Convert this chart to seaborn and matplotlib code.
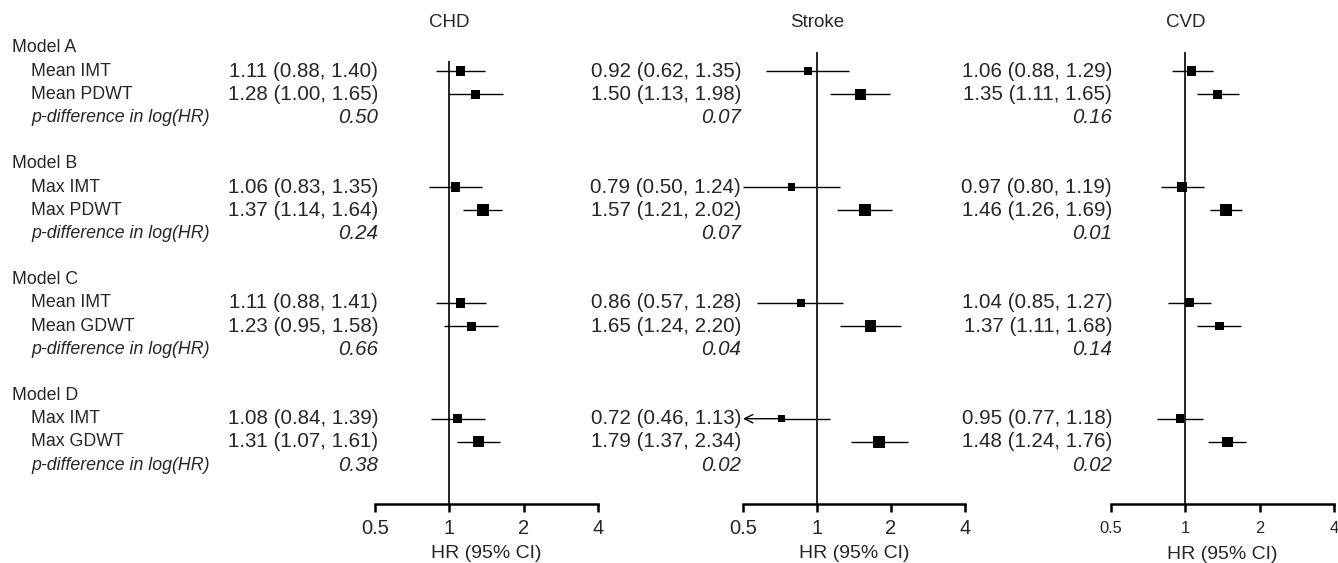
import numpy as np
import pandas as pd
import matplotlib
matplotlib.use("Agg")
import matplotlib.pyplot as plt
import seaborn as sns
from matplotlib.transforms import blended_transform_factory

# ---------------- data ----------------
models = ["Model A", "Model B", "Model C", "Model D"]
exposures = [["Mean IMT", "Mean PDWT"], ["Max IMT", "Max PDWT"],
             ["Mean IMT", "Mean GDWT"], ["Max IMT", "Max GDWT"]]
p_label = "p-difference in log(HR)"
outcomes = ["CHD", "Stroke", "CVD"]

chd_hr = [1.11, 1.28, 1.06, 1.37, 1.11, 1.23, 1.08, 1.31]
chd_lo = [0.88, 1.00, 0.83, 1.14, 0.88, 0.95, 0.84, 1.07]
chd_hi = [1.40, 1.65, 1.35, 1.64, 1.41, 1.58, 1.39, 1.61]
chd_p = ["0.50", "0.24", "0.66", "0.38"]

stroke_hr = [0.92, 1.50, 0.79, 1.57, 0.86, 1.65, 0.72, 1.79]
stroke_lo = [0.62, 1.13, 0.50, 1.21, 0.57, 1.24, 0.46, 1.37]
stroke_hi = [1.35, 1.98, 1.24, 2.02, 1.28, 2.20, 1.13, 2.34]
stroke_p = ["0.07", "0.07", "0.04", "0.02"]

cvd_hr = [1.06, 1.35, 0.97, 1.46, 1.04, 1.37, 0.95, 1.48]
cvd_lo = [0.88, 1.11, 0.80, 1.26, 0.85, 1.11, 0.77, 1.24]
cvd_hi = [1.29, 1.65, 1.19, 1.69, 1.27, 1.68, 1.18, 1.76]
cvd_p = ["0.16", "0.01", "0.14", "0.02"]

xticks = [0.5, 1, 2, 4]
xtick_labels = ["0.5", "1", "2", "4"]
xlabel = "HR (95% CI)"

panels = [
    (chd_hr, chd_lo, chd_hi, chd_p),
    (stroke_hr, stroke_lo, stroke_hi, stroke_p),
    (cvd_hr, cvd_lo, cvd_hi, cvd_p),
]

# ---------------- layout ----------------
sns.set_theme(style="white")
plt.rcParams["font.family"] = ["Liberation Sans", "DejaVu Sans"]

W, H = 1338, 563
fig = plt.figure(figsize=(W / 100, H / 100), dpi=100)

ROW0, ROWH = 48.0, 23.17


def row_of(px):
    return (px - ROW0) / ROWH


AX_TOP, AX_BOT = 52, 504
panel_px = [(375, 598), (743, 965), (1111, 1334)]
value_right_px = [378, 741, 1112]
vline_top_px = [61, 52, 52]
tick_fs = [14.5, 14.5, 11.9]
tick_pad = [5, 5, 6]
xlabel_pad = [5, 5, 7.5]

item_rows = []
p_rows = []
header_rows = []
for i in range(len(models)):
    header_rows.append(5 * i)
    item_rows += [5 * i + 1, 5 * i + 2]
    p_rows.append(5 * i + 3)

axes = []
for k, (l, r) in enumerate(panel_px):
    ax = fig.add_axes([l / W, 1 - AX_BOT / H, (r - l) / W, (AX_BOT - AX_TOP) / H])
    axes.append(ax)
    hr, lo, hi, pv = panels[k]
    df = pd.DataFrame({"hr": hr, "lo": lo, "hi": hi, "row": item_rows})
    width = np.log(df["hi"]) - np.log(df["lo"])
    side_px = 12.5 * (width.min() / width)
    df["s"] = (side_px * 0.72) ** 2

    ax.set_xscale("log", base=2)
    ax.set_xlim(0.5, 4)
    ax.set_ylim(row_of(AX_BOT), row_of(AX_TOP))

    # reference line
    ax.vlines(1, row_of(vline_top_px[k]), row_of(AX_BOT), color="black", lw=1.2, zorder=1)

    # CI lines
    for _, d in df.iterrows():
        if d["lo"] < 0.5:
            ax.hlines(d["row"], d["hr"], d["hi"], color="black", lw=1.0, zorder=2)
            ax.annotate("", xy=(0.5, d["row"]), xytext=(d["hr"], d["row"]),
                        arrowprops=dict(arrowstyle="->,head_length=0.5,head_width=0.25",
                                        lw=1.0, color="black", shrinkA=0, shrinkB=0),
                        annotation_clip=False)
        else:
            ax.hlines(d["row"], d["lo"], d["hi"], color="black", lw=1.0, zorder=2)

    smin, smax = df["s"].min() * 0.99, df["s"].max() * 1.01
    sns.scatterplot(data=df, x="hr", y="row", size="s", sizes=(smin, smax),
                    size_norm=(smin, smax), marker="s", color="black",
                    linewidth=0, legend=False, ax=ax, zorder=3)

    # axis styling
    for sp in ["left", "top", "right"]:
        ax.spines[sp].set_visible(False)
    ax.spines["bottom"].set_color("black")
    ax.spines["bottom"].set_linewidth(1.8)
    ax.set_xticks(xticks)
    ax.set_xticklabels(xtick_labels)
    ax.minorticks_off()
    ax.tick_params(axis="x", which="major", direction="out", length=6, width=1.8,
                   color="black", labelsize=tick_fs[k], pad=tick_pad[k], bottom=True)
    ax.set_yticks([])
    ax.set_ylabel("")
    ax.set_xlabel(xlabel, fontsize=14, labelpad=xlabel_pad[k])
    ax.grid(False)
    ax.patch.set_alpha(0)

    # title over reference line
    ax.text(1, row_of(23), outcomes[k], ha="center", va="center", fontsize=13.5,
            clip_on=False)

    # value texts
    tr = blended_transform_factory(fig.transFigure, ax.transData)
    xr = value_right_px[k] / W
    for h_, lo_, hi_, rr in zip(hr, lo, hi, item_rows):
        ax.text(xr, rr, f"{h_:.2f} ({lo_:.2f}, {hi_:.2f})", transform=tr,
                ha="right", va="center", fontsize=14.8, clip_on=False)
    for p_, rr in zip(pv, p_rows):
        ax.text(xr, rr, p_, transform=tr, ha="right", va="center", fontsize=14.8,
                style="italic", clip_on=False)

# left labels
ax0 = axes[0]
tr0 = blended_transform_factory(fig.transFigure, ax0.transData)
for i, m in enumerate(models):
    ax0.text(12 / W, header_rows[i], m, transform=tr0, ha="left", va="center",
             fontsize=12.8, clip_on=False)
    for j, e in enumerate(exposures[i]):
        ax0.text(31 / W, 5 * i + 1 + j, e, transform=tr0, ha="left", va="center",
                 fontsize=12.8, clip_on=False)
    ax0.text(31 / W, p_rows[i], p_label, transform=tr0, ha="left", va="center",
             fontsize=12.8, style="italic", clip_on=False)

fig.savefig("out.png", dpi=100, facecolor="white")
